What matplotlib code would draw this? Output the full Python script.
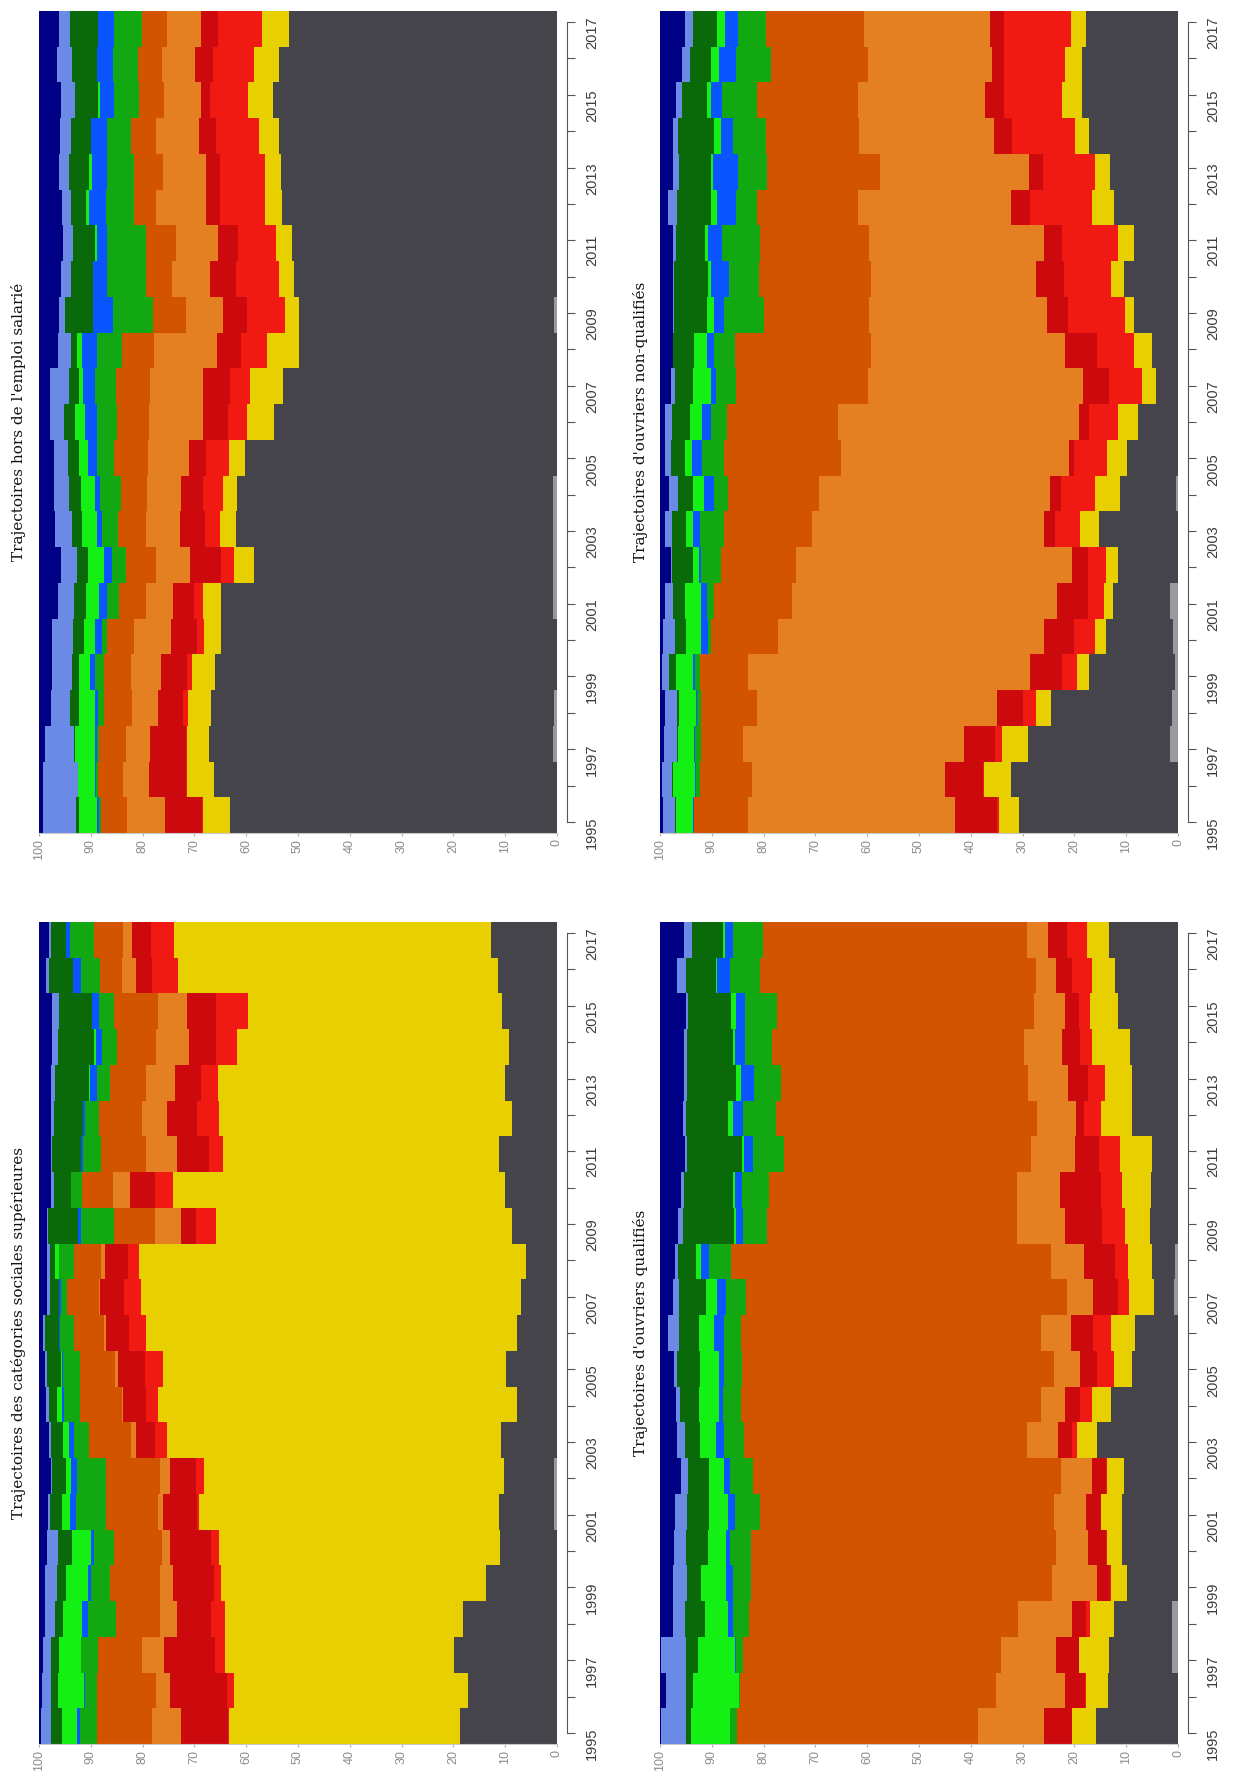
import numpy as np
import matplotlib
matplotlib.use("Agg")
import matplotlib.pyplot as plt

plt.rcParams['font.family'] = ['Liberation Sans', 'DejaVu Sans']

years = list(range(1995, 2018))

# Stacking order from 0 (right) to 100 (left)
state_colors = ['#9a9a9e',  # light gray (missing)
                '#45444b',  # dark gray
                '#e8cf00',  # yellow
                '#f01a12',  # red
                '#cc0a0e',  # dark red
                '#e47f22',  # orange
                '#d25400',  # dark orange
                '#12a812',  # green
                '#0a55ff',  # blue
                '#14f014',  # lime
                '#0a6a0a',  # dark green
                '#6a8ae6',  # light blue
                '#000085']  # navy

# Cumulative percentage (upper edge of each state in the stack), 1995..2017
# --- Trajectoires hors de l'emploi salarié
A_lgray = [0, 0, 0.8, 0.6, 0, 0, 0.7, 0.8, 0.8, 0.7, 0, 0, 0, 0, 0.5, 0, 0, 0, 0, 0, 0, 0, 0]
A_gray = [63.2, 66.3, 67.1, 66.8, 66.1, 64.8, 64.8, 58.5, 61.9, 61.7, 60.3, 54.7, 52.9, 49.8, 49.8, 50.8, 51.1, 53.1, 53.3, 53.7, 54.8, 53.7, 51.8]
A_yellow = [68.4, 71.4, 71.4, 71.3, 70.5, 68.2, 68.4, 62.3, 65.1, 64.5, 63.4, 59.8, 59.2, 56.0, 52.5, 53.7, 54.2, 56.3, 56.3, 57.5, 59.6, 58.5, 57.0]
A_red = [68.6, 71.6, 71.6, 72.2, 71.5, 69.5, 70.0, 64.8, 68.0, 68.4, 67.7, 63.6, 63.2, 61.1, 59.8, 61.9, 61.5, 65.1, 65.1, 65.9, 67.0, 66.4, 65.5]
A_dred = [75.6, 78.7, 78.5, 77.1, 76.4, 74.5, 74.1, 70.9, 72.8, 72.6, 71.0, 68.4, 68.4, 65.7, 64.4, 67.0, 65.4, 67.8, 67.8, 69.1, 68.7, 69.8, 68.8]
A_orange = [83.0, 83.7, 83.3, 82.0, 82.3, 81.6, 79.4, 77.5, 79.4, 79.1, 78.9, 78.7, 78.5, 77.8, 71.6, 74.3, 73.5, 77.5, 76.1, 77.4, 75.8, 76.2, 75.3]
A_dorange = [88.1, 88.6, 88.4, 87.5, 87.5, 86.8, 84.5, 83.3, 84.8, 84.2, 85.5, 85.0, 85.2, 84.0, 77.9, 79.4, 79.4, 81.6, 81.6, 82.2, 80.7, 80.8, 80.2]
A_green = [88.5, 89.0, 88.8, 88.6, 89.2, 87.8, 86.8, 85.9, 87.8, 88.2, 88.8, 88.8, 89.2, 88.8, 85.8, 86.8, 86.8, 87.1, 86.8, 86.9, 85.6, 85.8, 85.5]
A_blue = [88.8, 89.2, 89.2, 89.2, 90.1, 89.2, 88.5, 87.5, 88.8, 89.2, 90.6, 91.1, 91.5, 91.7, 89.6, 89.6, 88.8, 90.4, 89.8, 90.0, 88.3, 88.8, 88.6]
A_lime = [92.3, 92.4, 93.0, 92.3, 92.3, 91.4, 90.9, 90.6, 91.7, 91.9, 92.3, 93.0, 92.3, 92.7, 89.6, 89.6, 89.2, 90.9, 90.4, 90.0, 88.6, 88.8, 88.6]
A_dgreen = [92.9, 92.4, 93.3, 94.0, 93.7, 93.4, 93.2, 92.7, 93.6, 94.2, 94.4, 95.1, 94.2, 93.9, 94.9, 93.8, 93.4, 93.8, 94.2, 93.8, 93.1, 93.7, 94.0]
A_lblue = [99.2, 99.2, 98.9, 97.6, 97.4, 97.4, 96.3, 95.7, 96.9, 97.2, 97.2, 97.8, 97.8, 96.3, 96.1, 95.7, 95.3, 95.6, 96.1, 95.9, 95.7, 96.5, 96.1]

# --- Trajectoires d'ouvriers non-qualifiés
B_lgray = [0, 0, 1.5, 1.2, 0.6, 1.0, 1.5, 0, 0, 0.4, 0, 0, 0, 0, 0, 0, 0, 0, 0, 0, 0, 0, 0]
B_gray = [30.7, 32.2, 28.9, 24.6, 17.1, 13.9, 12.6, 11.6, 15.2, 11.2, 9.8, 7.8, 4.2, 5.0, 8.5, 10.5, 8.5, 12.4, 13.1, 17.2, 18.6, 18.5, 17.7]
B_yellow = [34.5, 37.4, 34.0, 27.4, 19.5, 16.0, 14.3, 13.9, 19.0, 16.0, 13.7, 11.6, 7.0, 8.4, 10.3, 12.9, 11.6, 16.6, 16.0, 19.8, 22.4, 21.9, 20.6]
B_red = [34.9, 37.6, 35.3, 29.9, 22.4, 20.0, 17.3, 17.3, 23.8, 22.5, 20.0, 17.1, 13.3, 15.6, 21.3, 22.1, 22.4, 28.6, 26.0, 32.0, 33.5, 33.5, 33.5]
B_dred = [43.1, 45.0, 41.4, 34.9, 28.5, 25.9, 23.4, 20.4, 25.9, 24.7, 21.1, 19.2, 18.3, 21.8, 25.3, 27.4, 25.9, 32.2, 28.8, 35.5, 37.3, 36.0, 36.3]
B_orange = [83.0, 82.2, 84.0, 81.3, 83.0, 77.3, 74.6, 73.8, 70.6, 69.4, 65.0, 65.6, 59.9, 59.3, 59.7, 59.3, 59.7, 61.8, 57.6, 61.5, 61.8, 59.9, 60.7]
B_dorange = [93.4, 92.3, 92.1, 92.1, 92.3, 90.2, 89.5, 88.2, 87.7, 86.8, 87.7, 87.0, 85.3, 85.6, 79.9, 80.8, 80.7, 81.3, 79.3, 79.5, 81.3, 78.5, 79.5]
B_green = [93.5, 93.1, 93.3, 92.9, 93.3, 90.8, 91.0, 92.0, 92.3, 89.5, 91.8, 90.2, 89.2, 89.5, 87.7, 86.6, 88.1, 85.4, 84.9, 86.0, 88.1, 85.3, 84.9]
B_blue = [93.7, 93.3, 93.5, 93.0, 93.7, 92.1, 92.1, 92.5, 93.7, 91.5, 93.8, 91.8, 90.2, 91.0, 89.5, 90.2, 90.8, 88.9, 89.7, 88.3, 90.1, 88.7, 87.4]
B_lime = [96.9, 97.5, 96.5, 96.3, 96.9, 95.0, 95.2, 93.7, 95.0, 93.7, 95.2, 94.2, 93.7, 93.5, 91.0, 90.8, 91.4, 90.2, 90.2, 89.6, 91.0, 90.2, 88.9]
B_dgreen = [97.1, 97.6, 96.7, 96.7, 98.2, 97.1, 97.5, 97.6, 97.6, 96.6, 97.9, 97.6, 97.1, 97.5, 97.3, 97.3, 96.9, 96.7, 96.3, 96.6, 95.8, 94.3, 93.7]
B_lblue = [99.4, 99.6, 99.2, 99.0, 99.6, 99.4, 99.0, 97.9, 99.0, 98.2, 99.0, 99.0, 97.9, 97.5, 97.5, 97.5, 97.5, 98.5, 97.5, 97.5, 96.9, 95.8, 95.2]

# --- Trajectoires des catégories sociales supérieures
C_lgray = [0, 0, 0, 0, 0, 0, 0.5, 0.5, 0, 0, 0, 0, 0, 0, 0, 0, 0, 0, 0, 0, 0, 0, 0]
C_gray = [18.7, 17.1, 19.8, 18.1, 13.7, 11.1, 11.2, 10.3, 10.9, 7.8, 9.9, 7.8, 7.0, 5.9, 8.6, 10.1, 11.2, 8.6, 10.1, 9.3, 10.6, 11.4, 12.8]
C_yellow = [63.4, 62.3, 64.1, 64.0, 64.9, 65.3, 69.2, 68.2, 75.3, 77.0, 76.1, 79.4, 80.3, 80.6, 65.9, 74.1, 64.5, 65.3, 65.5, 61.7, 59.6, 73.2, 73.9]
C_red = [63.6, 63.8, 66.1, 66.7, 66.3, 66.7, 69.5, 69.7, 77.6, 79.4, 79.5, 82.6, 83.6, 82.9, 69.6, 77.6, 67.2, 69.5, 68.8, 65.9, 65.9, 78.1, 78.3]
C_dred = [72.6, 74.7, 75.8, 73.4, 74.1, 74.7, 76.0, 74.7, 81.2, 83.7, 84.8, 87.1, 88.2, 87.2, 72.6, 82.5, 73.3, 75.3, 73.8, 71.1, 71.5, 81.2, 82.0]
C_orange = [78.1, 77.4, 80.2, 76.6, 76.6, 76.2, 77.1, 76.6, 82.3, 84.0, 85.4, 87.5, 88.5, 88.1, 77.6, 85.8, 79.4, 80.2, 79.3, 77.4, 77.0, 83.9, 83.7]
C_dorange = [88.8, 88.8, 88.6, 85.2, 86.2, 85.6, 87.0, 87.0, 90.4, 92.1, 92.0, 93.3, 94.6, 93.3, 85.6, 91.7, 88.1, 88.5, 86.2, 84.9, 85.6, 88.2, 89.4]
C_green = [92.0, 91.2, 91.9, 90.6, 90.0, 89.3, 92.9, 92.7, 93.2, 95.2, 95.4, 95.9, 95.7, 96.1, 91.9, 93.8, 91.5, 91.1, 88.8, 87.9, 88.5, 91.9, 94.0]
C_blue = [92.7, 91.4, 91.9, 91.7, 90.6, 89.9, 94.0, 93.8, 94.2, 95.5, 95.5, 96.1, 96.1, 96.2, 92.4, 93.8, 91.9, 91.5, 90.2, 89.0, 89.8, 93.4, 94.7]
C_lime = [95.5, 96.3, 96.1, 95.4, 94.7, 93.6, 95.5, 94.7, 95.3, 96.5, 95.8, 96.1, 96.1, 97.0, 92.4, 93.8, 91.9, 91.5, 90.4, 89.4, 89.8, 93.4, 94.7]
C_dgreen = [97.6, 97.6, 97.6, 97.0, 96.5, 96.3, 97.8, 97.4, 97.6, 98.0, 98.4, 98.8, 97.8, 97.8, 98.2, 97.2, 97.4, 97.2, 97.0, 96.3, 96.1, 98.1, 97.6]
C_lblue = [99.7, 99.5, 99.3, 98.8, 98.8, 98.4, 98.3, 97.6, 98.0, 98.6, 98.9, 99.3, 98.5, 98.4, 98.4, 97.6, 97.6, 97.6, 97.6, 97.5, 97.5, 98.6, 98.0]

# --- Trajectoires d'ouvriers qualifiés
D_lgray = [0, 0, 1.1, 1.1, 0, 0, 0, 0, 0, 0, 0, 0, 0.7, 0.5, 0, 0, 0, 0, 0, 0, 0, 0, 0]
D_gray = [15.8, 13.5, 13.4, 12.4, 9.8, 10.8, 10.8, 10.5, 15.6, 12.9, 8.9, 8.3, 4.7, 5.0, 5.5, 5.3, 5.0, 8.8, 8.9, 9.3, 11.6, 12.1, 13.3]
D_yellow = [20.4, 17.8, 19.1, 16.9, 13.0, 13.8, 14.8, 13.8, 19.5, 16.6, 12.4, 13.0, 9.5, 9.7, 10.3, 10.8, 11.2, 14.9, 14.0, 16.6, 16.9, 16.6, 17.6]
D_red = [20.5, 17.9, 19.2, 17.7, 13.1, 13.9, 14.9, 13.9, 20.5, 19.0, 15.6, 16.4, 11.6, 12.1, 14.7, 14.9, 15.2, 18.1, 17.3, 19.0, 19.2, 20.5, 21.5]
D_dred = [25.9, 21.8, 23.6, 20.4, 15.6, 17.3, 17.7, 16.6, 23.1, 21.9, 18.9, 20.6, 16.4, 18.2, 21.8, 22.8, 19.8, 19.6, 21.3, 22.4, 21.8, 23.6, 25.1]
D_orange = [38.7, 35.1, 34.1, 30.9, 24.4, 23.6, 24.0, 22.5, 29.2, 26.5, 24.0, 26.5, 21.5, 24.6, 31.1, 31.1, 28.4, 27.3, 28.9, 29.8, 27.8, 27.5, 29.2]
D_dorange = [85.1, 84.5, 83.9, 82.8, 82.4, 82.4, 80.7, 82.1, 83.7, 84.4, 84.1, 84.4, 83.4, 86.2, 79.3, 79.0, 76.1, 77.6, 76.7, 78.4, 77.4, 80.7, 80.1]
D_green = [86.4, 84.7, 85.4, 86.0, 86.0, 86.4, 85.6, 86.4, 87.7, 87.9, 87.6, 87.7, 87.3, 90.5, 83.9, 84.1, 82.1, 84.0, 81.8, 83.5, 83.5, 86.5, 86.0]
D_blue = [86.4, 84.7, 85.6, 86.8, 87.2, 87.2, 86.8, 87.7, 89.2, 88.7, 88.7, 89.5, 88.9, 92.0, 85.4, 85.6, 83.7, 86.0, 84.4, 85.6, 85.3, 88.9, 87.4]
D_lime = [94.1, 93.7, 92.7, 91.4, 92.0, 90.8, 90.6, 90.5, 92.3, 92.5, 92.3, 92.5, 91.1, 93.1, 85.8, 86.0, 84.1, 86.9, 85.3, 86.0, 86.2, 89.2, 87.9]
D_dgreen = [95.0, 95.0, 95.0, 95.2, 94.8, 95.0, 94.8, 94.6, 95.2, 96.1, 96.7, 96.3, 96.3, 96.6, 95.6, 95.4, 94.7, 95.0, 94.8, 94.8, 94.6, 95.0, 93.9]
D_lblue = [99.9, 98.9, 99.8, 97.5, 97.5, 97.3, 97.1, 96.0, 96.7, 96.9, 97.3, 98.4, 97.5, 97.1, 96.5, 96.0, 95.2, 95.6, 95.3, 95.3, 95.0, 96.7, 95.3]

titles = ["Trajectoires hors de l'emploi salarié",
          "Trajectoires d'ouvriers non-qualifiés",
          "Trajectoires des catégories sociales supérieures",
          "Trajectoires d'ouvriers qualifiés"]

panels = [
    [A_lgray, A_gray, A_yellow, A_red, A_dred, A_orange, A_dorange, A_green, A_blue, A_lime, A_dgreen, A_lblue],
    [B_lgray, B_gray, B_yellow, B_red, B_dred, B_orange, B_dorange, B_green, B_blue, B_lime, B_dgreen, B_lblue],
    [C_lgray, C_gray, C_yellow, C_red, C_dred, C_orange, C_dorange, C_green, C_blue, C_lime, C_dgreen, C_lblue],
    [D_lgray, D_gray, D_yellow, D_red, D_dred, D_orange, D_dorange, D_green, D_blue, D_lime, D_dgreen, D_lblue],
]

W, H = 1234, 1778
fig = plt.figure(figsize=(W / 100, H / 100), dpi=100)

# panel rectangles in pixels: (left, top, width, height)
col_left = [39, 660]
row_top = [11, 922]
pw, ph = 518, 822
title_x = [19, 641]

yrs = np.array(years, dtype=float)
y_edges = np.append(yrs - 0.5, yrs[-1] + 0.5)
ylo, yhi = y_edges[0], y_edges[-1]
tick_pad = 0.31
tick_pos = np.linspace(ylo + tick_pad, yhi - tick_pad, len(years))

for k, (tops, title) in enumerate(zip(panels, titles)):
    r, c = divmod(k, 2)
    l = col_left[c] / W
    b = 1 - (row_top[r] + ph) / H
    ax = fig.add_axes([l, b, pw / W, ph / H])
    n = len(years)
    levels = [np.zeros(n)] + [np.asarray(t, dtype=float) for t in tops] + [np.full(n, 100.0)]
    for i, col in enumerate(state_colors):
        lo = np.append(levels[i], levels[i][-1])
        hi = np.append(levels[i + 1], levels[i + 1][-1])
        ax.fill_betweenx(y_edges, lo, hi, step='post', color=col,
                         linewidth=0, antialiased=False)
    ax.set_xlim(100, 0)
    ax.set_ylim(ylo, yhi)
    ax.set_xticks(np.arange(0, 101, 10))
    ax.set_xticklabels([str(v) for v in range(0, 101, 10)])
    ax.tick_params(axis='x', length=2.5, width=0.8, color='#b0b0b0',
                   labelsize=9, labelcolor='#8c8c8c', labelrotation=90, pad=2)
    ax.yaxis.tick_right()
    ax.set_yticks(tick_pos)
    ax.set_yticklabels([str(y) if (y - years[0]) % 2 == 0 else '' for y in years])
    ax.tick_params(axis='y', length=5.5, width=0.8, color='#555555',
                   labelsize=10.5, labelcolor='#3c3c3c', labelrotation=90, pad=7)
    for lab in ax.get_yticklabels():
        lab.set_verticalalignment('center')
    ax.spines['top'].set_visible(False)
    ax.spines['left'].set_visible(False)
    ax.spines['bottom'].set_color('#c8c8c8')
    ax.spines['bottom'].set_linewidth(0.8)
    ax.spines['right'].set_position(('outward', 7.5))
    ax.spines['right'].set_bounds(tick_pos[0], tick_pos[-1])
    ax.spines['right'].set_color('#555555')
    ax.spines['right'].set_linewidth(0.8)

    fig.text(title_x[c] / W, 1 - (row_top[r] + ph / 2) / H, title,
             rotation=90, ha='center', va='center',
             family=['DejaVu Serif'], fontsize=11, color='#111111')

fig.savefig('out.png', dpi=100)
